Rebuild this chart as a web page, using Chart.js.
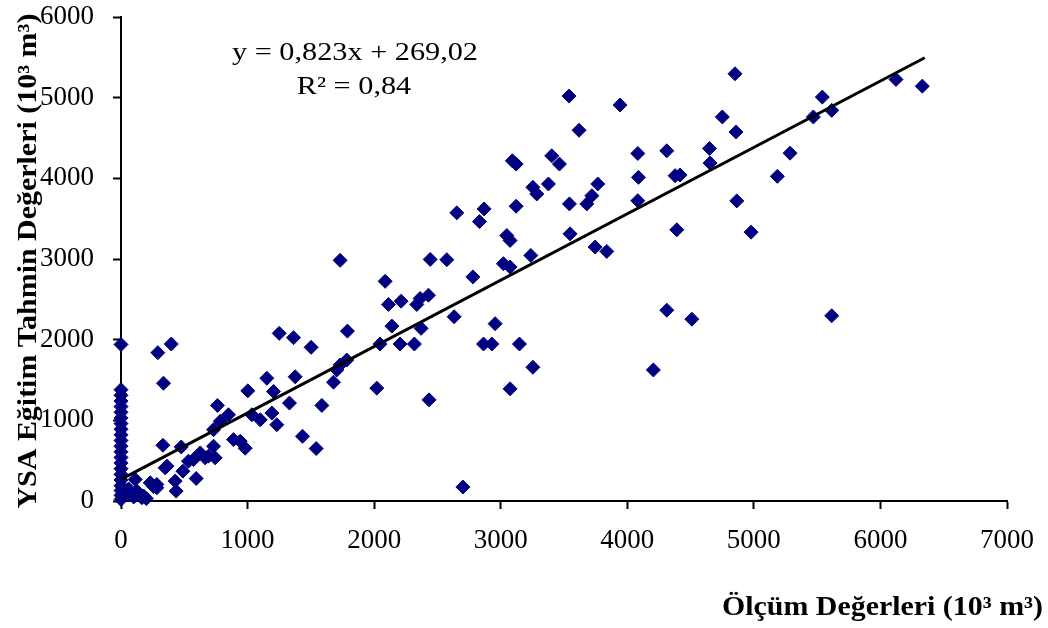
<!DOCTYPE html>
<html>
<head>
<meta charset="utf-8">
<script src="https://cdn.jsdelivr.net/npm/chart.js@4.4.1/dist/chart.umd.min.js"></script>
<style>
html, body { margin: 0; padding: 0; background: #fff; }
#graph { display: block; }
</style>
</head>
<body>
<canvas id="graph" width="1048" height="628"></canvas>
<script>
const olcumX = [
  0, 0, 0, 0, 0, 0, 0, 0, 0, 0, 0, 0, 0, 0, 0, 0, 0, 0, 0, 0, 0, 0,
  73, 112, 126, 178, 165, 200, 100, 60, 231, 283, 257, 283,
  291, 397, 336, 331, 476, 349, 363, 489, 594, 428, 436, 533, 573, 626, 665, 691, 731, 744, 762, 784, 731, 849, 889, 942, 981, 1002, 1034, 1100,
  1152, 1192, 1205, 1231, 1250, 1331, 1363, 1376, 1434, 1502, 1542, 1587, 1679, 1705, 1731, 1784, 1731, 1789,
  2021, 2047, 2087, 2113, 2140, 2205, 2213, 2318, 2337, 2363, 2371, 2429, 2434, 2443, 2574, 2632, 2653, 2701, 2780, 2832, 2864, 2869, 2930, 2956,
  3021, 3048, 3074, 3074, 3074, 3092, 3122, 3122, 3148, 3238, 3254, 3254, 3285, 3377, 3403, 3464, 3540, 3543, 3548, 3619, 3680, 3720, 3746, 3767, 3838, 3943,
  4083, 4083, 4088, 4206, 4312, 4312, 4378, 4391, 4417, 4510, 4649, 4654, 4751, 4851, 4859, 4865, 4978, 5186, 5286, 5470, 5541, 5615, 5615, 6123, 6331
];
const tahminY = [
  1940, 1380, 1310, 1240, 1170, 1100, 1030, 960, 890, 820, 750, 680, 610, 540, 470, 400, 330, 260, 190, 130, 70, 20,
  82, 267, 123, 62, 41, 30, 50, 150, 226, 205, 180, 164,
  1839, 1946, 1460, 691, 670, 411, 432, 370, 279, 247, 123, 494, 514, 596, 535, 556, 679, 535, 1185, 988, 884, 1069, 761, 741, 654, 1366, 1069, 1007,
  1522, 1090, 1358, 946, 2078, 1214, 2025, 1540, 802, 1905, 650, 1185, 1473, 1625, 1686, 1748, 2983, 2106,
  1399, 1946, 2723, 2436, 2168, 1946, 2477, 1946, 2436, 2510, 2140, 2551, 1254, 2995, 2991, 2284, 3572, 173, 2778, 3464, 1946, 3621, 1946, 2198,
  2942, 3291, 3230, 2901, 1390, 4217, 4177, 3654, 1946, 3044, 1658, 3889, 3806, 3930, 4279, 4177, 5020, 3683, 3312, 4596, 3683, 3785, 3148, 3930, 3094, 4909,
  4308, 3723, 4012, 1625, 4341, 2366, 4033, 3362, 4041, 2254, 4370, 4189, 4761, 5296, 4575, 3720, 3333, 4025, 4312, 4761, 5007, 4843, 2296, 5226, 5143
];

// trend line end points
const trendX = [0, 6350];
const trendY = [269, 5495];

const xTickValues = [0, 1000, 2000, 3000, 4000, 5000, 6000, 7000];
const yTickValues = [0, 1000, 2000, 3000, 4000, 5000, 6000];

const xTitle = 'Ölçüm Değerleri (10³ m³)';
const yTitle = 'YSA Eğitim Tahmin Değerleri (10³ m³)';
const eqLines = ['y = 0,823x + 269,02', 'R² = 0,84'];

const serif = '"Liberation Serif", "Times New Roman", serif';

// draw text squeezed/stretched to a given width
function drawFit(ctx, txt, x, y, targetW, rot) {
  const w = ctx.measureText(txt).width;
  ctx.save();
  ctx.translate(x, y);
  if (rot) ctx.rotate(rot);
  ctx.scale(targetW / w, 1);
  ctx.fillText(txt, 0, 0);
  ctx.restore();
}

const labelsPlugin = {
  id: 'labelsPlugin',
  afterDraw(chart) {
    const ctx = chart.ctx;
    ctx.save();
    ctx.fillStyle = '#000';
    ctx.textBaseline = 'alphabetic';

    // regression text
    ctx.font = '25px ' + serif;
    ctx.textAlign = 'center';
    const sx = 246 / ctx.measureText(eqLines[0]).width;
    drawFit(ctx, eqLines[0], 355, 60, 246);
    drawFit(ctx, eqLines[1], 354, 94, ctx.measureText(eqLines[1]).width * sx);

    // axis titles
    ctx.font = 'bold 27px ' + serif;
    ctx.textAlign = 'right';
    drawFit(ctx, xTitle, 1043, 615, 321);
    ctx.textAlign = 'center';
    drawFit(ctx, yTitle, 36, 261, 495, -Math.PI / 2);
    ctx.restore();
  }
};

const pts = olcumX.map((x, i) => ({ x: x, y: tahminY[i] }));
const trend = trendX.map((x, i) => ({ x: x, y: trendY[i] }));

const ctx = document.getElementById('graph').getContext('2d');
const chart = new Chart(ctx, {
  type: 'scatter',
  data: {
    datasets: [
      {
        type: 'line',
        data: trend,
        borderColor: '#000',
        borderWidth: 3,
        pointRadius: 0,
        fill: false,
        clip: false,
      },
      {
        data: pts,
        pointStyle: 'rectRot',
        pointRadius: 7,
        pointBackgroundColor: '#000080',
        pointBorderColor: '#000080',
        pointBorderWidth: 1,
        clip: false,
      }
    ]
  },
  options: {
    responsive: false,
    animation: false,
    devicePixelRatio: 1,
    layout: { padding: { top: 17, right: 41, left: 0, bottom: 0 } },
    plugins: {
      legend: { display: false },
      tooltip: { enabled: false }
    },
    scales: {
      x: {
        type: 'linear',
        min: 0,
        max: 7000,
        afterFit(s) { s.height = 127; s.paddingLeft = 0; s.paddingRight = 0; },
        afterBuildTicks(s) { s.ticks = xTickValues.map(v => ({ value: v })); },
        grid: { drawOnChartArea: false, drawTicks: true, tickLength: 8, tickWidth: 2, tickColor: '#000' },
        border: { color: '#000', width: 2 },
        ticks: { color: '#000', font: { family: serif, size: 27 }, padding: 16, maxRotation: 0,
                 callback: v => String(v) }
      },
      y: {
        type: 'linear',
        min: 0,
        max: 6000,
        afterFit(s) { s.width = 121; s.paddingTop = 0; s.paddingBottom = 0; },
        afterBuildTicks(s) { s.ticks = yTickValues.map(v => ({ value: v })); },
        grid: { drawOnChartArea: false, drawTicks: true, tickLength: 8, tickWidth: 2, tickColor: '#000' },
        border: { color: '#000', width: 2 },
        ticks: { color: '#000', font: { family: serif, size: 27 }, padding: 19,
                 callback: v => String(v) }
      }
    }
  },
  plugins: [labelsPlugin]
});
</script>
</body>
</html>
